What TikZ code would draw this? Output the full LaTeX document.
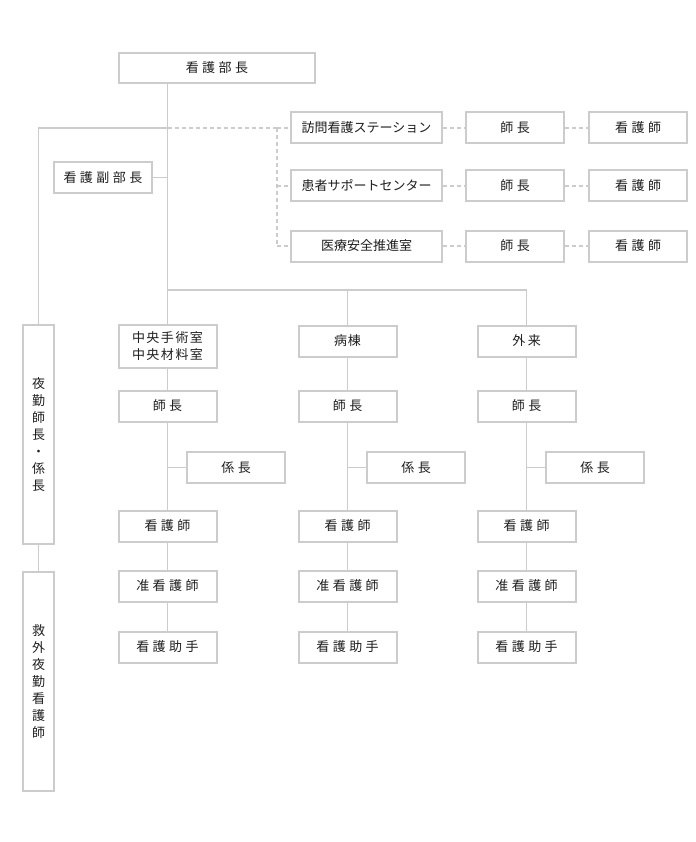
\documentclass[tikz,border=0pt]{standalone}
\usepackage{fontspec}
\usepackage{tikz}
\usetikzlibrary{calc}
\newfontfamily\jp{Noto Sans CJK JP}
\definecolor{bg}{HTML}{FFFFFF}
\definecolor{frame}{HTML}{CCCCCC}
\definecolor{ink}{HTML}{1E1E1E}
\newcommand\jg{\hspace{3.5pt}}
\tikzset{
  box/.style={draw=frame, line width=2pt, fill=bg, inner sep=0pt, text=ink, align=center,
    font=\jp\fontsize{13}{17}\selectfont},
  unit/.style={box, minimum width=98pt, minimum height=31pt},
  link/.style={draw=frame, line width=1.9pt},
  dlink/.style={draw=frame, line width=1.9pt, dash pattern=on 4pt off 3pt},
}
\begin{document}
\begin{tikzpicture}[x=1pt,y=-1pt]
  \useasboundingbox (0,0) rectangle (695,842);
  \coordinate (j1) at (167.5,128);
  \coordinate (j2) at (167.5,290);
  \coordinate (dj) at (277,128);
  \node[box, minimum width=196pt, minimum height=30pt] (bucho) at (217,68) {看\jg 護\jg 部\jg 長};
  \node[unit] (fuku) at (103,177.5) {看\jg 護\jg 副\jg 部\jg 長};
  \node[box, minimum width=31pt, minimum height=219pt] (yakin) at (38.5,434.5) {夜\\勤\\師\\長\\・\\係\\長};
  \node[box, minimum width=31pt, minimum height=219pt] (kyugai) at (38.5,681.5) {救\\外\\夜\\勤\\看\\護\\師};
  \draw[link] (bucho.south -| j1) -- (j2);
  \draw[link] (j1) -| (yakin.north);
  \draw[link] (yakin) -- (kyugai);
  \draw[link] (fuku.east) -- (fuku.east -| j1);
  \draw[dlink] (j1) -- (dj);
  \foreach \n/\t/\y in {houmon/訪問看護ステーション/128, kanja/患者サポートセンター/186, iryo/医療安全推進室/246}{
    \node[unit, minimum width=151pt] (\n) at (366.5,\y) {\t};
    \node[unit] (\n-shi) at (515,\y) {師\jg 長};
    \node[unit] (\n-ns) at (638,\y) {看\jg 護\jg 師};
    \draw[dlink] (dj |- \n.west) -- (\n.west);
    \draw[dlink] (\n) -- (\n-shi);
    \draw[dlink] (\n-shi) -- (\n-ns);
  }
  \draw[dlink] (dj) -- (dj |- iryo.west);
  \node[unit, minimum height=43pt] (shujutsu) at (167.5,346.5) {中\hspace{1.5pt}央\hspace{1.5pt}手\hspace{1.5pt}術\hspace{1.5pt}室\\中\hspace{1.5pt}央\hspace{1.5pt}材\hspace{1.5pt}料\hspace{1.5pt}室};
  \node[unit] (byoto) at (347.5,341) {病\hspace{1pt}棟};
  \node[unit] (gairai) at (526.5,341) {外\hspace{2.5pt}来};
  \draw[link] (j2) -- (shujutsu.north);
  \draw[link] (j2) -| (gairai.north);
  \draw[link] (byoto.north) -- (byoto.north |- j2);
  \foreach \c/\x/\top in {a/167.5/shujutsu, b/347.5/byoto, c/526.5/gairai}{
    \node[unit] (\c-shi) at (\x,406) {師\jg 長};
    \node[unit] (\c-kak) at (\x+68.5,467.5) {係\jg 長};
    \node[unit] (\c-ns) at (\x,526) {看\jg 護\jg 師};
    \node[unit] (\c-jun) at (\x,586) {准\jg 看\jg 護\jg 師};
    \node[unit] (\c-jo) at (\x,647) {看\jg 護\jg 助\jg 手};
    \draw[link] (\top) -- (\c-shi);
    \draw[link] (\c-shi) -- (\c-ns);
    \draw[link] (\c-ns) -- (\c-jun);
    \draw[link] (\c-jun) -- (\c-jo);
    \draw[link] (\c-kak.west) -- (\c-kak.west -| \c-shi.south);
  }
\end{tikzpicture}
\end{document}
